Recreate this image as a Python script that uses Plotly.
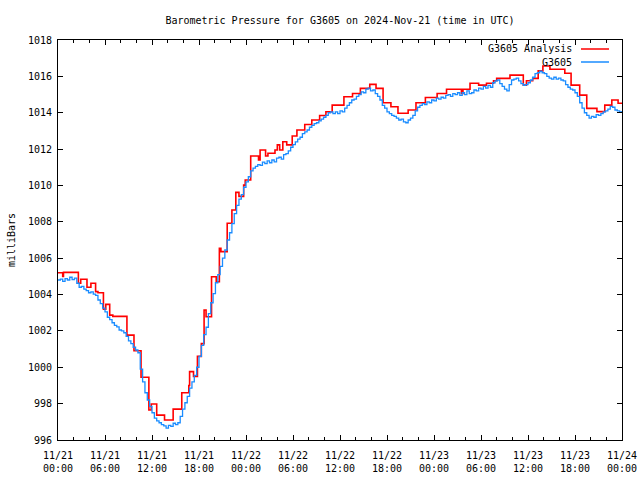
import pandas as pd
import plotly.graph_objects as go

# ---- data ----
start_time = "2024-11-21 00:00"
sample_minutes = 18  # blue series sampling interval

g3605_values = [
    1004.80, 1004.85, 1004.72, 1004.88, 1004.80, 1004.95, 1004.82, 1004.90, 1004.62, 1004.40,
    1004.45, 1004.30, 1004.22, 1004.10, 1004.15, 1004.02, 1003.95, 1003.70, 1003.50, 1003.25,
    1003.05, 1002.75, 1002.62, 1002.45, 1002.30, 1002.22, 1002.05, 1002.00, 1001.90, 1001.70,
    1001.45, 1001.30, 1001.10, 1000.95, 1000.80, 999.90, 999.20, 998.60, 998.20, 997.85,
    997.50, 997.20, 997.05, 996.95, 996.85, 996.78, 996.65, 996.80, 996.75, 996.92,
    996.85, 996.95, 997.30, 997.70, 998.05, 998.40, 998.85, 999.20, 999.55, 1000.00,
    1000.60, 1001.20, 1001.80, 1002.20, 1002.95, 1003.55, 1004.05, 1004.65, 1005.10, 1005.55,
    1006.00, 1006.45, 1007.00, 1007.40, 1007.90, 1008.45, 1008.90, 1009.25, 1009.50, 1009.90,
    1010.20, 1010.48, 1010.80, 1010.95, 1011.05, 1011.15, 1011.10, 1011.28, 1011.20, 1011.35,
    1011.25, 1011.40, 1011.30, 1011.50, 1011.55, 1011.45, 1011.70, 1011.75, 1011.90, 1012.10,
    1012.25, 1012.40, 1012.55, 1012.65, 1012.85, 1012.95, 1013.05, 1013.20, 1013.30, 1013.40,
    1013.45, 1013.55, 1013.65, 1013.75, 1013.85, 1014.00, 1014.05, 1013.95, 1014.05, 1013.95,
    1014.10, 1014.05, 1014.25, 1014.40, 1014.55, 1014.70, 1014.75, 1014.90, 1015.00, 1015.15,
    1015.10, 1015.30, 1015.35, 1015.20, 1015.25, 1015.05, 1014.90, 1014.70, 1014.40, 1014.25,
    1014.05, 1013.95, 1013.85, 1013.80, 1013.70, 1013.60, 1013.65, 1013.50, 1013.45, 1013.60,
    1013.70, 1013.85, 1014.10, 1014.30, 1014.40, 1014.50, 1014.45, 1014.60, 1014.55, 1014.70,
    1014.65, 1014.80, 1014.75, 1014.85, 1014.80, 1014.95, 1015.00, 1014.90, 1015.05, 1015.00,
    1015.10, 1014.95, 1015.10, 1015.00, 1015.20, 1015.05, 1015.10, 1015.25, 1015.20, 1015.35,
    1015.30, 1015.45, 1015.35, 1015.50, 1015.40, 1015.65, 1015.75, 1015.80, 1015.60, 1015.45,
    1015.30, 1015.20, 1015.55, 1015.80, 1015.85, 1015.90, 1015.75, 1015.60, 1015.50, 1015.55,
    1015.65, 1015.80, 1015.95, 1016.15, 1016.20, 1016.28, 1016.20, 1016.15, 1016.00, 1015.90,
    1015.85, 1015.95, 1015.85, 1015.90, 1015.80, 1015.75, 1015.55, 1015.40, 1015.30, 1015.25,
    1015.10, 1014.90, 1014.55, 1014.25, 1014.00, 1013.85, 1013.70, 1013.80, 1013.75, 1013.90,
    1013.85, 1013.95, 1014.05, 1014.10, 1014.20, 1014.35, 1014.30, 1014.15, 1014.10, 1014.05,
    1014.10,
]

analysis_hours = [
    0.0, 0.6, 0.7, 2.6, 2.9, 3.7, 4.2, 4.8, 5.1, 5.8, 6.1, 6.6, 7.0, 8.8, 9.7, 10.6,
    11.6, 11.9, 12.6, 13.6, 14.7, 15.8, 16.7, 16.8, 17.3, 17.8, 18.3, 18.65, 18.9,
    19.6, 20.2, 20.6, 20.8, 21.6, 22.2, 22.7, 23.1, 23.7, 23.9, 24.6, 25.6, 25.8,
    26.5, 26.8, 27.7, 28.0, 28.3, 28.7, 29.2, 29.9, 30.5, 31.5, 32.4, 33.4, 34.2,
    35.0, 36.5, 37.6, 38.6, 39.8, 40.6, 41.5, 42.5, 43.4, 44.7, 45.7, 46.9, 48.4,
    49.6, 51.5, 51.7, 52.6, 53.7, 54.7, 55.6, 56.0, 57.7, 59.4, 59.8, 60.6, 61.3,
    61.9, 62.8, 64.7, 65.5, 66.6, 67.5, 68.8, 69.8, 70.7, 71.5, 72.0,
]
analysis_values = [
    1005.20, 1005.00, 1005.22, 1004.62, 1004.84, 1004.40, 1004.62, 1004.16, 1004.10,
    1003.19, 1003.46, 1002.87, 1002.80, 1001.77, 1000.91, 999.45, 997.65, 997.98,
    997.37, 997.10, 997.70, 998.60, 999.00, 999.76, 999.50, 1000.60, 1001.30,
    1003.15, 1002.78, 1004.98, 1004.70, 1006.54, 1006.36, 1007.92, 1008.65, 1009.62,
    1009.40, 1010.02, 1010.30, 1011.62, 1011.40, 1011.95, 1011.62, 1011.77, 1011.95,
    1012.23, 1011.95, 1012.40, 1012.23, 1012.72, 1013.05, 1013.35, 1013.60, 1013.85,
    1014.05, 1014.42, 1014.88, 1015.06, 1015.34, 1015.56, 1015.34, 1014.55, 1014.33,
    1013.97, 1014.15, 1014.55, 1014.84, 1015.06, 1015.29, 1015.06, 1015.29, 1015.62,
    1015.52, 1015.62, 1015.76, 1015.89, 1016.07, 1015.52, 1015.76, 1015.89, 1016.30,
    1016.57, 1016.39, 1016.17, 1015.52, 1014.97, 1014.24, 1014.06, 1014.42, 1014.70,
    1014.52, 1014.52,
]

tick_labels = ["11/21<br>00:00", "11/21<br>06:00", "11/21<br>12:00", "11/21<br>18:00",
               "11/22<br>00:00", "11/22<br>06:00", "11/22<br>12:00", "11/22<br>18:00",
               "11/23<br>00:00", "11/23<br>06:00", "11/23<br>12:00", "11/23<br>18:00",
               "11/24<br>00:00"]
y_ticks = [996, 998, 1000, 1002, 1004, 1006, 1008, 1010, 1012, 1014, 1016, 1018]

# ---- build ----
t0 = pd.Timestamp(start_time)
blue_times = pd.date_range(t0, periods=len(g3605_values), freq=f"{sample_minutes}min")
red_times = [t0 + pd.Timedelta(hours=h) for h in analysis_hours]
tick_vals = pd.date_range(t0, periods=len(tick_labels), freq="6h")

FONT = "DejaVu Sans Mono"
RED = "#ff0000"
BLUE = "#1a8cff"

fig = go.Figure()
fig.add_trace(go.Scatter(x=red_times, y=analysis_values, mode="lines", name="G3605 Analysis",
                         line=dict(color=RED, width=1.6, shape="hv")))
fig.add_trace(go.Scatter(x=blue_times, y=g3605_values, mode="lines", name="G3605",
                         line=dict(color=BLUE, width=1.3, shape="hv")))

# plot box at x 58-622, y 40-440 (page body margin removed below)
fig.update_layout(
    width=640, height=480,
    margin=dict(l=58, r=18, t=40, b=40, autoexpand=False),
    paper_bgcolor="white", plot_bgcolor="white",
    showlegend=False,
    font=dict(family=FONT, size=10, color="black"),
    title=dict(text="Barometric Pressure for G3605 on 2024-Nov-21 (time in UTC)",
               x=340 / 640, xanchor="center", y=1 - 20 / 480, yanchor="middle",
               font=dict(family=FONT, size=10, color="black")),
)
fig.update_xaxes(
    type="date", range=[tick_vals[0], tick_vals[-1]],
    tickvals=list(tick_vals), ticktext=tick_labels,
    ticks="inside", ticklen=5, tickcolor="black", tickwidth=1,
    showline=True, linecolor="black", linewidth=1, mirror="ticks",
    showgrid=False, zeroline=False, ticklabelstandoff=6,
    minor=dict(dtick=2 * 3600 * 1000, ticks="inside", ticklen=3, tickcolor="black", showgrid=False),
    tickfont=dict(family=FONT, size=10, color="black"),
)
fig.update_yaxes(
    range=[996, 1018], tickvals=y_ticks,
    ticks="inside", ticklen=5, tickcolor="black", tickwidth=1,
    showline=True, linecolor="black", linewidth=1, mirror="ticks",
    showgrid=False, zeroline=False, ticklabelstandoff=3,
    title=dict(text="milliBars", standoff=10, font=dict(family=FONT, size=10, color="black")),
    tickfont=dict(family=FONT, size=10, color="black"),
)

# gnuplot-style legend: text on the left, line sample on the right
legend_rows = [("G3605 Analysis", RED, 1 - 9 / 400), ("G3605", BLUE, 1 - 22 / 400)]
for label, color, yy in legend_rows:
    fig.add_annotation(x=(574 - 58) / 564, y=yy, xref="paper", yref="paper", text=label,
                       showarrow=False, xanchor="right", yanchor="middle",
                       font=dict(family=FONT, size=10, color="black"))
    fig.add_shape(type="line", xref="paper", yref="paper",
                  x0=(581 - 58) / 564, x1=(609 - 58) / 564, y0=yy, y1=yy,
                  line=dict(color=color, width=1.5))

fig.write_html(
    "out.html",
    config={"displayModeBar": False},
    post_script="document.body.style.margin='0';document.body.style.overflow='hidden';",
)
